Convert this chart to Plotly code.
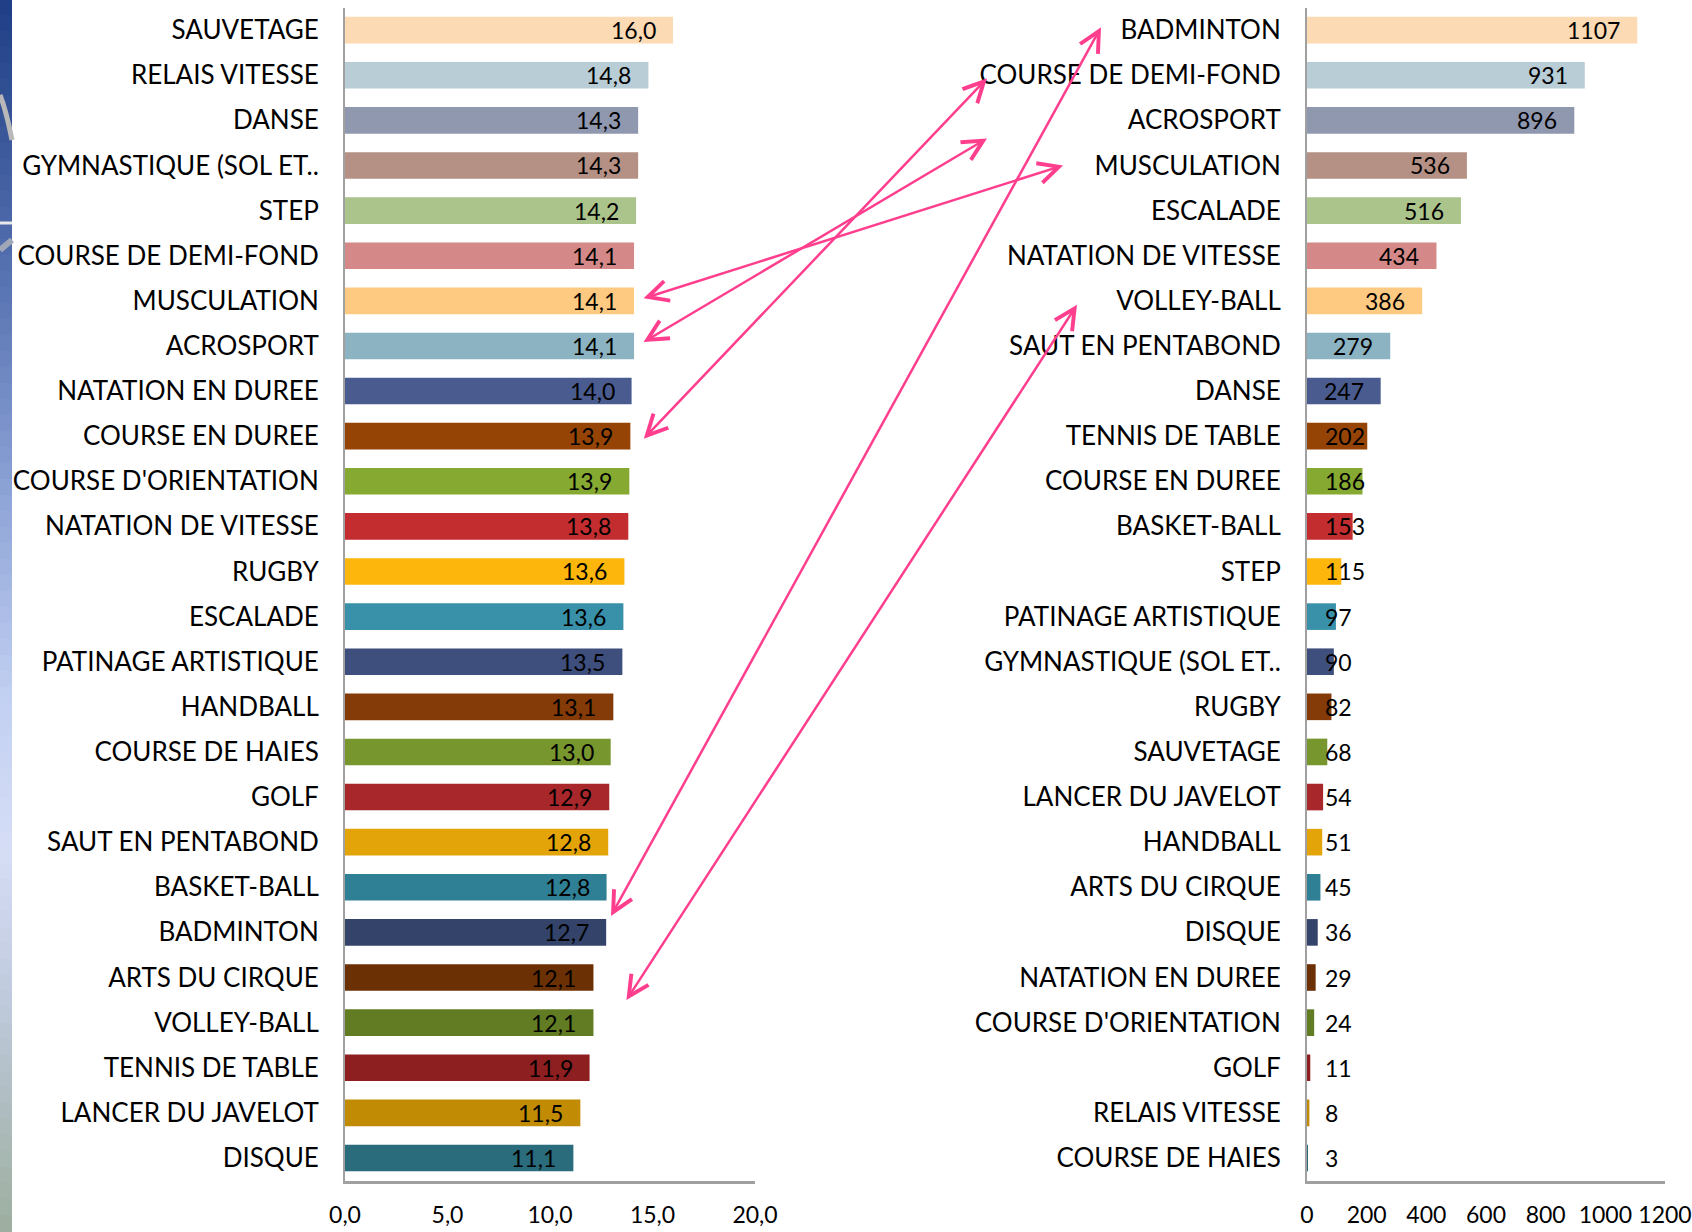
import plotly.graph_objects as go

W, H = 1692, 1232

# ---------------- data ----------------
left_labels = ["SAUVETAGE", "RELAIS VITESSE", "DANSE", "GYMNASTIQUE (SOL ET..", "STEP",
               "COURSE DE DEMI-FOND", "MUSCULATION", "ACROSPORT", "NATATION EN DUREE",
               "COURSE EN DUREE", "COURSE D'ORIENTATION", "NATATION DE VITESSE", "RUGBY",
               "ESCALADE", "PATINAGE ARTISTIQUE", "HANDBALL", "COURSE DE HAIES", "GOLF",
               "SAUT EN PENTABOND", "BASKET-BALL", "BADMINTON", "ARTS DU CIRQUE",
               "VOLLEY-BALL", "TENNIS DE TABLE", "LANCER DU JAVELOT", "DISQUE"]
left_values = [16.0, 14.8, 14.3, 14.3, 14.2, 14.1, 14.1, 14.1, 13.98, 13.92, 13.87, 13.82,
               13.63, 13.58, 13.53, 13.09, 12.96, 12.89, 12.84, 12.76, 12.74, 12.12, 12.12,
               11.93, 11.48, 11.14]

right_labels = ["BADMINTON", "COURSE DE DEMI-FOND", "ACROSPORT", "MUSCULATION", "ESCALADE",
                "NATATION DE VITESSE", "VOLLEY-BALL", "SAUT EN PENTABOND", "DANSE",
                "TENNIS DE TABLE", "COURSE EN DUREE", "BASKET-BALL", "STEP",
                "PATINAGE ARTISTIQUE", "GYMNASTIQUE (SOL ET..", "RUGBY", "SAUVETAGE",
                "LANCER DU JAVELOT", "HANDBALL", "ARTS DU CIRQUE", "DISQUE",
                "NATATION EN DUREE", "COURSE D'ORIENTATION", "GOLF", "RELAIS VITESSE",
                "COURSE DE HAIES"]
right_values = [1107, 931, 896, 536, 516, 434, 386, 279, 247, 202, 186, 153, 115, 97, 90,
                82, 68, 54, 51, 45, 36, 29, 24, 11, 8, 3]

row_colors = ["#FCDAB3", "#B8CDD5", "#9098B0", "#B59084", "#ABC48B", "#D48887", "#FECA82",
              "#8BB3C1", "#4A5B8F", "#964406", "#86A932", "#C32D2F", "#FDB60B", "#3890A9",
              "#3F4F7D", "#843B07", "#77962E", "#A8272B", "#E2A408", "#2F8094", "#334369",
              "#6C3005", "#627C24", "#8E1F20", "#C18B04", "#2A6B7C"]

left_ticks = [0, 5, 10, 15, 20]
right_ticks = [0, 200, 400, 600, 800, 1000, 1200]

# arrows: (left sport, left dx px, left dy px, right row name, right x offset px from right axis, right dy px)
arrows = [
    ("MUSCULATION", 8, -2, "MUSCULATION", -244, 0),
    ("ACROSPORT", 8, -3, "ACROSPORT", -320, 18),
    ("COURSE EN DUREE", 12, 4, "COURSE DE DEMI-FOND", -320, 3),
    ("BADMINTON", 4, -15, "BADMINTON", -206, -3),
    ("VOLLEY-BALL", 32, -21, "VOLLEY-BALL", -230, 4),
]

# ---------------- layout geometry (pixels) ----------------
L_X0, L_X1 = 345, 755
R_X0, R_X1 = 1307, 1665
P_TOP, P_BOT = 7.6, 1180.5
N = len(left_labels)
ROW = (P_BOT - P_TOP) / N
FONT = "Lato, 'Open Sans', sans-serif"


def lx(v):
    return L_X0 + v * (L_X1 - L_X0) / left_ticks[-1]


def rx(v):
    return R_X0 + v * (R_X1 - R_X0) / right_ticks[-1]


def ry(i):
    return P_TOP + (i + 0.5) * ROW


fig = go.Figure()

fig.add_trace(go.Bar(
    x=left_values, y=left_labels, orientation="h", marker=dict(color=row_colors, line_width=0),
    xaxis="x", yaxis="y", hoverinfo="x+y", showlegend=False))
fig.add_trace(go.Bar(
    x=right_values, y=right_labels, orientation="h", marker=dict(color=row_colors, line_width=0),
    xaxis="x2", yaxis="y2", hoverinfo="x+y", showlegend=False))

annotations = []
# value labels, left chart
for lab, v in zip(left_labels, left_values):
    annotations.append(dict(x=v, y=lab, xref="x", yref="y", text=f"{v:.1f}".replace(".", ","),
                            showarrow=False, xanchor="right", xshift=-15,
                            font=dict(family=FONT, size=23, color="#000000")))
# value labels, right chart
for lab, v in zip(right_labels, right_values):
    txt = str(v)
    w = len(txt) * 13.5
    barpx = rx(v) - R_X0
    if barpx - 16 - w >= 17:
        annotations.append(dict(x=v, y=lab, xref="x2", yref="y2", text=txt, showarrow=False,
                                xanchor="right", xshift=-15,
                                font=dict(family=FONT, size=23, color="#000000")))
    else:
        annotations.append(dict(x=0, y=lab, xref="x2", yref="y2", text=txt, showarrow=False,
                                xanchor="left", xshift=16,
                                font=dict(family=FONT, size=23, color="#000000")))

# pink double-headed arrows
for lname, ldx, ldy, rname, rxo, rdy in arrows:
    i = left_labels.index(lname)
    lxp = lx(left_values[i]) + ldx
    lyp = ry(i) + ldy
    j = right_labels.index(rname)
    rxp = R_X0 + rxo
    ryp = ry(j) + rdy
    annotations.append(dict(
        x=rxp / W, y=1 - ryp / H, xref="paper", yref="paper",
        ax=lxp - rxp, ay=lyp - ryp, axref="pixel", ayref="pixel",
        showarrow=True, arrowside="end+start", arrowhead=5, startarrowhead=5,
        arrowsize=1.6, startarrowsize=1.6, arrowwidth=2.5, arrowcolor="#FF3F8E",
        standoff=0, startstandoff=0, text=""))

# left decorative gradient strip
stops = [(0, (31, 62, 134)), (150, (61, 90, 156)), (300, (92, 119, 181)), (500, (143, 165, 216)),
         (700, (195, 208, 242)), (850, (214, 222, 246)), (1000, (192, 202, 221)), (1232, (157, 175, 159))]
shapes = []
nstrip = 77
for k in range(nstrip):
    y0 = k * H / nstrip
    y1 = (k + 1) * H / nstrip
    ym = (y0 + y1) / 2
    for a in range(len(stops) - 1):
        if stops[a][0] <= ym <= stops[a + 1][0]:
            t = (ym - stops[a][0]) / (stops[a + 1][0] - stops[a][0])
            c = tuple(int(stops[a][1][m] + t * (stops[a + 1][1][m] - stops[a][1][m])) for m in range(3))
            break
    shapes.append(dict(type="rect", xref="paper", yref="paper", x0=0, x1=12 / W,
                       y0=1 - y1 / H, y1=1 - y0 / H + 0.001, line_width=0,
                       fillcolor=f"rgb{c}", layer="below"))
shapes.append(dict(type="line", xref="paper", yref="paper", x0=0, x1=12 / W,
                   y0=1 - 223 / H, y1=1 - 223 / H, line=dict(color="#E8E8E8", width=3)))
shapes.append(dict(type="path", xref="paper", yref="paper",
                   path=f"M 0 {1 - 95 / H} Q {6 / W} {1 - 110 / H} {12 / W} {1 - 140 / H}",
                   line=dict(color="#B8B8B8", width=5)))
shapes.append(dict(type="path", xref="paper", yref="paper",
                   path=f"M 0 {1 - 250 / H} Q {6 / W} {1 - 245 / H} {12 / W} {1 - 240 / H}",
                   line=dict(color="#A0A8B8", width=6)))

ydom = [1 - P_BOT / H, 1 - P_TOP / H]


def xaxis_style(**kw):
    d = dict(showgrid=False, zeroline=False, ticks="", showline=True, automargin=False,
             linecolor="#A0A0A0", linewidth=3, ticklabelstandoff=12,
             tickfont=dict(family=FONT, size=23, color="#000000"))
    d.update(kw)
    return d


def yaxis_style(**kw):
    d = dict(showgrid=False, zeroline=False, ticks="", showline=True, automargin=False,
             linecolor="#A0A0A0", linewidth=2, ticklabelstandoff=19,
             tickfont=dict(family=FONT, size=26, color="#000000"))
    d.update(kw)
    return d


fig.update_layout(
    width=W, height=H, autosize=False,
    margin=dict(l=0, r=0, t=0, b=0, pad=0),
    paper_bgcolor="white", plot_bgcolor="white",
    bargap=0.41,
    font=dict(family=FONT, color="#000000"),
    xaxis=xaxis_style(domain=[L_X0 / W, L_X1 / W], range=[0, left_ticks[-1]], tickvals=left_ticks,
                      ticktext=[f"{t:.1f}".replace(".", ",") for t in left_ticks], anchor="y"),
    yaxis=yaxis_style(domain=ydom, range=[N - 0.5, -0.5], anchor="x"),
    xaxis2=xaxis_style(domain=[R_X0 / W, R_X1 / W], range=[0, right_ticks[-1]], tickvals=right_ticks,
                       anchor="y2"),
    yaxis2=yaxis_style(domain=ydom, range=[N - 0.5, -0.5], anchor="x2"),
    annotations=annotations,
    shapes=shapes,
)

fig.write_html("out.html", config={"displayModeBar": False},
               post_script="document.body.style.margin='0';document.body.style.overflow='hidden';")
